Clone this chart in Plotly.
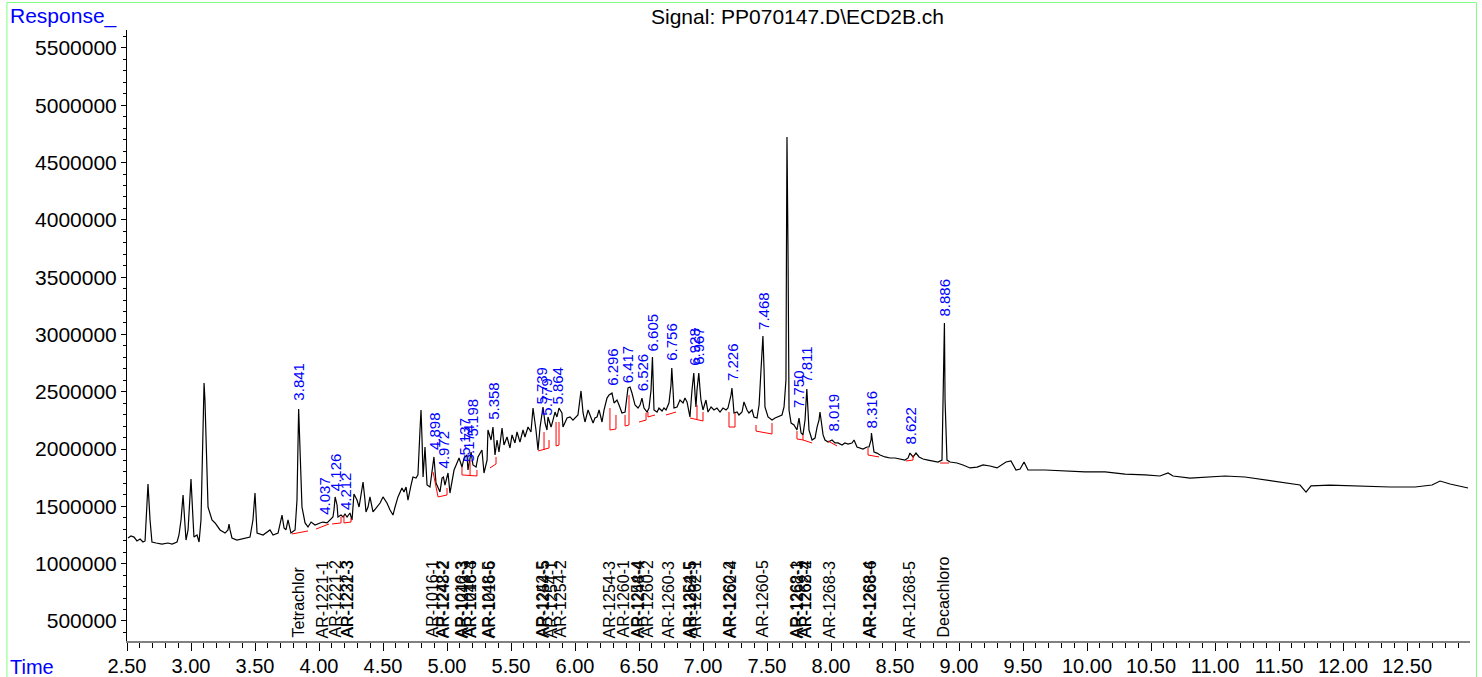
import plotly.graph_objects as go

# ---------------- data ----------------
time_min = [
    2.508, 2.531, 2.555, 2.578, 2.602, 2.625, 2.641, 2.648, 2.664, 2.680, 2.695, 2.727, 2.773, 2.820, 2.852,
    2.891, 2.906, 2.922, 2.938, 2.953, 2.961, 2.977, 3.000, 3.016, 3.023, 3.047, 3.063, 3.078, 3.094, 3.102,
    3.109, 3.125, 3.133, 3.164, 3.188, 3.227, 3.266, 3.289, 3.297, 3.305, 3.320, 3.359, 3.406, 3.461, 3.484,
    3.500, 3.516, 3.563, 3.617, 3.641, 3.680, 3.695, 3.711, 3.727, 3.742, 3.758, 3.773, 3.781, 3.813, 3.828,
    3.841, 3.859, 3.867, 3.891, 3.914, 3.938, 3.969, 4.008, 4.031, 4.063, 4.086, 4.109, 4.117, 4.126, 4.141,
    4.148, 4.172, 4.188, 4.203, 4.219, 4.242, 4.258, 4.273, 4.297, 4.313, 4.328, 4.344, 4.359, 4.367, 4.383,
    4.398, 4.422, 4.453, 4.477, 4.500, 4.531, 4.555, 4.578, 4.594, 4.617, 4.648, 4.664, 4.680, 4.695, 4.719,
    4.734, 4.758, 4.773, 4.789, 4.797, 4.805, 4.813, 4.828, 4.844, 4.867, 4.898, 4.914, 4.930, 4.945, 4.961,
    4.972, 4.984, 5.008, 5.023, 5.039, 5.055, 5.078, 5.094, 5.117, 5.133, 5.156, 5.164, 5.188, 5.203, 5.227,
    5.242, 5.273, 5.289, 5.313, 5.320, 5.344, 5.359, 5.375, 5.391, 5.406, 5.430, 5.445, 5.469, 5.492, 5.508,
    5.531, 5.547, 5.570, 5.594, 5.609, 5.633, 5.656, 5.672, 5.695, 5.711, 5.727, 5.750, 5.766, 5.781, 5.789,
    5.813, 5.828, 5.844, 5.859, 5.875, 5.898, 5.906, 5.938, 5.961, 5.984, 6.000, 6.023, 6.047, 6.063, 6.078,
    6.102, 6.117, 6.141, 6.156, 6.172, 6.188, 6.211, 6.227, 6.250, 6.266, 6.289, 6.305, 6.328, 6.344, 6.367,
    6.391, 6.414, 6.430, 6.445, 6.469, 6.492, 6.508, 6.523, 6.539, 6.563, 6.578, 6.594, 6.605, 6.609, 6.617,
    6.641, 6.656, 6.680, 6.695, 6.711, 6.734, 6.750, 6.756, 6.766, 6.773, 6.797, 6.820, 6.844, 6.859, 6.875,
    6.898, 6.914, 6.928, 6.938, 6.945, 6.953, 6.967, 6.977, 6.984, 7.000, 7.023, 7.039, 7.063, 7.086, 7.109,
    7.133, 7.156, 7.180, 7.195, 7.219, 7.226, 7.234, 7.242, 7.266, 7.281, 7.305, 7.320, 7.344, 7.359, 7.383,
    7.398, 7.422, 7.438, 7.453, 7.468, 7.477, 7.484, 7.508, 7.539, 7.563, 7.586, 7.617, 7.633, 7.648, 7.652,
    7.656, 7.664, 7.672, 7.688, 7.711, 7.734, 7.750, 7.766, 7.781, 7.797, 7.811, 7.820, 7.828, 7.852, 7.875,
    7.891, 7.906, 7.914, 7.922, 7.938, 7.953, 7.977, 8.008, 8.031, 8.055, 8.086, 8.109, 8.133, 8.164, 8.180,
    8.203, 8.227, 8.250, 8.281, 8.297, 8.313, 8.316, 8.328, 8.336, 8.359, 8.383, 8.422, 8.461, 8.500, 8.539,
    8.578, 8.602, 8.617, 8.641, 8.664, 8.688, 8.719, 8.758, 8.797, 8.836, 8.867, 8.875, 8.886, 8.891, 8.906,
    8.930, 8.984, 9.031, 9.086, 9.141, 9.188, 9.242, 9.297, 9.367, 9.406, 9.445, 9.477, 9.508, 9.539, 9.672,
    9.828, 9.984, 10.141, 10.297, 10.453, 10.570, 10.633, 10.672, 10.805, 10.961, 11.078, 11.234, 11.391,
    11.547, 11.664, 11.711, 11.750, 11.898, 12.133, 12.367, 12.563, 12.695, 12.758, 12.836, 12.977,
]

response_k = [
    1224, 1241, 1232, 1198, 1215, 1189, 1198, 1381, 1695, 1381, 1189, 1180, 1171, 1180, 1171,
    1189, 1250, 1381, 1599, 1337, 1206, 1294, 1739, 1381, 1232, 1250, 1189, 1381, 2253, 2576,
    2428, 1904, 1494, 1381, 1355, 1294, 1267, 1294, 1346, 1294, 1224, 1206, 1215, 1232, 1381,
    1616, 1267, 1250, 1294, 1250, 1267, 1337, 1424, 1311, 1294, 1381, 1294, 1267, 1294, 1555,
    2349, 1817, 1494, 1355, 1320, 1363, 1337, 1355, 1363, 1355, 1381, 1407, 1468, 1582, 1512,
    1407, 1424, 1407, 1433, 1407, 1442, 1381, 1608, 1555, 1494, 1599, 1712, 1555, 1451, 1494,
    1582, 1451, 1494, 1529, 1582, 1529, 1468, 1424, 1494, 1582, 1660, 1625, 1669, 1555, 1686,
    1756, 1747, 1774, 2166, 2340, 2079, 1756, 2018, 1686, 1669, 1931, 1704, 1660, 1625, 1747,
    1756, 1686, 1791, 1616, 1704, 1817, 1878, 1922, 1843, 1922, 1948, 1817, 1974, 1861, 1843,
    1931, 1992, 1791, 1904, 2166, 2079, 2192, 1948, 2079, 1974, 2184, 2035, 2105, 2009, 2123,
    2053, 2149, 2061, 2166, 2105, 2192, 2149, 2358, 2166, 1992, 2192, 2367, 2227, 2166, 2280,
    2192, 2253, 2323, 2280, 2358, 2315, 2192, 2271, 2280, 2253, 2271, 2297, 2507, 2315, 2236,
    2341, 2297, 2227, 2271, 2280, 2341, 2236, 2341, 2445, 2472, 2489, 2402, 2428, 2384, 2315,
    2323, 2533, 2541, 2489, 2384, 2358, 2384, 2445, 2358, 2323, 2358, 2515, 2803, 2515, 2341,
    2323, 2358, 2332, 2358, 2341, 2402, 2559, 2707, 2515, 2358, 2367, 2428, 2402, 2445, 2411,
    2280, 2515, 2664, 2472, 2367, 2515, 2664, 2515, 2428, 2341, 2428, 2323, 2367, 2341, 2358,
    2323, 2358, 2341, 2358, 2472, 2533, 2428, 2315, 2323, 2297, 2323, 2411, 2341, 2315, 2341,
    2280, 2271, 2384, 2690, 2986, 2690, 2367, 2280, 2253, 2271, 2280, 2297, 2367, 2603, 3737,
    4723, 3737, 2341, 2227, 2210, 2166, 2271, 2140, 2123, 2253, 2524, 2341, 2166, 2079, 2096,
    2192, 2253, 2323, 2253, 2123, 2079, 2061, 2079, 2053, 2053, 2035, 2053, 2044, 2053, 2079,
    2018, 2009, 2000, 2018, 2018, 2079, 2140, 2035, 1974, 1965, 1948, 1931, 1922, 1922, 1913,
    1904, 1922, 1965, 1931, 1965, 1931, 1913, 1904, 1896, 1887, 1904, 2428, 3100, 2428, 1904,
    1887, 1878, 1861, 1835, 1843, 1861, 1852, 1835, 1887, 1896, 1817, 1826, 1887, 1817, 1817,
    1808, 1800, 1800, 1782, 1774, 1765, 1791, 1765, 1747, 1756, 1765, 1756, 1730,
    1704, 1686, 1625, 1678, 1686, 1678, 1669, 1669, 1686, 1721, 1695, 1660,
]

# retention-time labels (blue) and the response level where each label starts
peak_rt = [3.841, 4.037, 4.126, 4.212, 4.898, 4.972, 5.137, 5.174, 5.198, 5.358, 5.739, 5.779, 5.864,
           6.296, 6.417, 6.526, 6.605, 6.756, 6.928, 6.967, 7.226, 7.468, 7.750, 7.811, 8.019, 8.316,
           8.622, 8.886]
peak_label_level_k = [2402, 1407, 1616, 1451, 1974, 1817, 1922, 1870, 2096, 2236, 2367, 2271, 2367,
                      2533, 2559, 2489, 2838, 2751, 2707, 2716, 2576, 3021, 2341, 2559, 2140, 2166,
                      2018, 3143]

# compound names (black, at bottom)
compound_rt = [3.836, 4.031, 4.125, 4.219, 4.222, 4.883, 4.966, 4.970, 5.117, 5.120, 5.180, 5.184,
               5.328, 5.331, 5.747, 5.750, 5.820, 5.883, 6.273, 6.375, 6.490, 6.494, 6.563, 6.734,
               6.898, 6.902, 6.938, 7.209, 7.213, 7.461, 7.734, 7.738, 7.797, 7.800, 7.992, 8.303,
               8.307, 8.617, 8.875]
compound_name = ["Tetrachlor", "AR-1221-1", "AR-1221-2", "AR-1232-3", "AR-1221-3", "AR-1016-1",
                 "AR-1242-2", "AR-1248-2", "AR-1016-3", "AR-1242-3", "AR-1248-3", "AR-1016-4",
                 "AR-1248-5", "AR-1016-6", "AR-1242-5", "AR-1254-5", "AR-1254-1", "AR-1254-2",
                 "AR-1254-3", "AR-1260-1", "AR-1254-4", "AR-1248-4", "AR-1260-2", "AR-1260-3",
                 "AR-1254-5", "AR-1262-5", "AR-1262-1", "AR-1260-2", "AR-1262-4", "AR-1260-5",
                 "AR-1268-1", "AR-1262-3", "AR-1268-2", "AR-1262-4", "AR-1268-3", "AR-1268-4",
                 "AR-1268-6", "AR-1268-5", "Decachloro"]

# integration baselines (red): each is a list of (time, response_k) points
baseline_segments = [
    [(3.789, 1259), (3.914, 1285)],
    [(3.977, 1302), (4.078, 1346)],
    [(4.102, 1346), (4.172, 1355), (4.172, 1407)],
    [(4.195, 1424), (4.195, 1355), (4.250, 1363), (4.250, 1398)],
    [(4.891, 1800), (4.930, 1582), (5.000, 1599), (5.000, 1660)],
    [(5.117, 1843), (5.117, 1774), (5.234, 1765), (5.234, 1817)],
    [(5.180, 1904), (5.180, 1774)],
    [(5.336, 1835), (5.383, 1870), (5.383, 1931)],
    [(5.711, 1983), (5.797, 2009), (5.797, 2079)],
    [(5.758, 2149), (5.758, 1992)],
    [(5.852, 2236), (5.852, 2027), (5.875, 2035), (5.875, 2236)],
    [(6.273, 2358), (6.273, 2166), (6.320, 2175), (6.320, 2297)],
    [(6.391, 2297), (6.391, 2201), (6.422, 2210), (6.422, 2472)],
    [(6.500, 2236), (6.555, 2253), (6.555, 2315)],
    [(6.570, 2323), (6.570, 2280), (6.625, 2297)],
    [(6.711, 2297), (6.789, 2323)],
    [(6.898, 2271), (7.000, 2245), (7.000, 2323)],
    [(6.953, 2384), (6.953, 2262)],
    [(7.203, 2323), (7.203, 2192), (7.250, 2192), (7.250, 2315)],
    [(7.414, 2210), (7.414, 2157), (7.539, 2131), (7.539, 2227)],
    [(7.734, 2157), (7.734, 2088), (7.781, 2079), (7.852, 2053)],
    [(7.781, 2123), (7.781, 2079)],
    [(7.977, 2070), (8.047, 2027)],
    [(8.289, 2009), (8.289, 1948), (8.375, 1931)],
    [(8.586, 1896), (8.641, 1904), (8.641, 1948)],
    [(8.852, 1878), (8.922, 1878)],
]

# ---------------- figure ----------------
FONT = "Liberation Sans, Arial, sans-serif"
response = [v * 1000 for v in response_k]

bl_x, bl_y = [], []
for seg in baseline_segments:
    for t, v in seg:
        bl_x.append(t)
        bl_y.append(v * 1000)
    bl_x.append(None)
    bl_y.append(None)

fig = go.Figure()
fig.add_trace(go.Scatter(x=time_min, y=response, mode="lines",
                         line=dict(color="black", width=1.2), hoverinfo="skip"))
fig.add_trace(go.Scatter(x=bl_x, y=bl_y, mode="lines",
                         line=dict(color="#ff0000", width=1), hoverinfo="skip"))

for rt, lvl in zip(peak_rt, peak_label_level_k):
    fig.add_annotation(x=rt, y=lvl * 1000, xref="x", yref="y", text=f"{rt:.3f}",
                       textangle=-90, showarrow=False, xanchor="center", yanchor="bottom",
                       font=dict(family=FONT, size=15, color="#0000ff"))

for rt, name in zip(compound_rt, compound_name):
    fig.add_annotation(x=rt, y=0, xref="x", yref="paper", text=name, textangle=-90,
                       showarrow=False, xanchor="center", yanchor="bottom", yshift=1,
                       font=dict(family=FONT, size=16, color="black"))

# header / corner texts
fig.add_annotation(x=-0.0886, y=1.0229, xref="paper", yref="paper", text="Response_",
                   showarrow=False, xanchor="left", yanchor="middle",
                   font=dict(family=FONT, size=21, color="#0000ff"))
fig.add_annotation(x=0.4989, y=1.0229, xref="paper", yref="paper",
                   text="Signal: PP070147.D\\ECD2B.ch", showarrow=False,
                   xanchor="center", yanchor="middle",
                   font=dict(family=FONT, size=21, color="black"))
fig.add_annotation(x=-0.0886, y=-0.0425, xref="paper", yref="paper", text="Time",
                   showarrow=False, xanchor="left", yanchor="middle",
                   font=dict(family=FONT, size=20, color="#0000ff"))

# green frame
fig.add_shape(type="rect", xref="paper", yref="paper", x0=-0.0894, x1=1.0048,
              y0=-0.2, y1=1.045, line=dict(color="#80ff80", width=1), layer="below")

fig.update_layout(
    width=1482, height=677,
    margin=dict(l=127, r=12, t=30, b=36, autoexpand=False),
    paper_bgcolor="white", plot_bgcolor="white",
    showlegend=False,
    font=dict(family=FONT, size=21, color="black"),
    xaxis=dict(range=[2.5, 12.992], tick0=2.5, dtick=0.5, tickformat=".2f",
               ticks="outside", ticklen=8, tickcolor="black", tickwidth=1,
               showline=True, linecolor="#808080", linewidth=2, showgrid=False,
               zeroline=False, automargin=False, ticklabelstandoff=-2,
               tickfont=dict(family=FONT, size=20, color="black"),
               minor=dict(dtick=0.1, ticks="outside", ticklen=5, tickcolor="black")),
    yaxis=dict(range=[325000, 5656600], tick0=500000, dtick=500000, tickformat="d",
               ticks="outside", ticklen=5, tickcolor="black", tickwidth=1,
               showline=True, linecolor="black", linewidth=1, showgrid=False,
               zeroline=False, automargin=False,
               tickfont=dict(family=FONT, size=21, color="black"),
               minor=dict(dtick=100000, ticks="outside", ticklen=3, tickcolor="black")),
)

fig.write_html("out.html", config={"displayModeBar": False},
               post_script="document.body.style.margin='0';document.body.style.overflow='hidden';")
